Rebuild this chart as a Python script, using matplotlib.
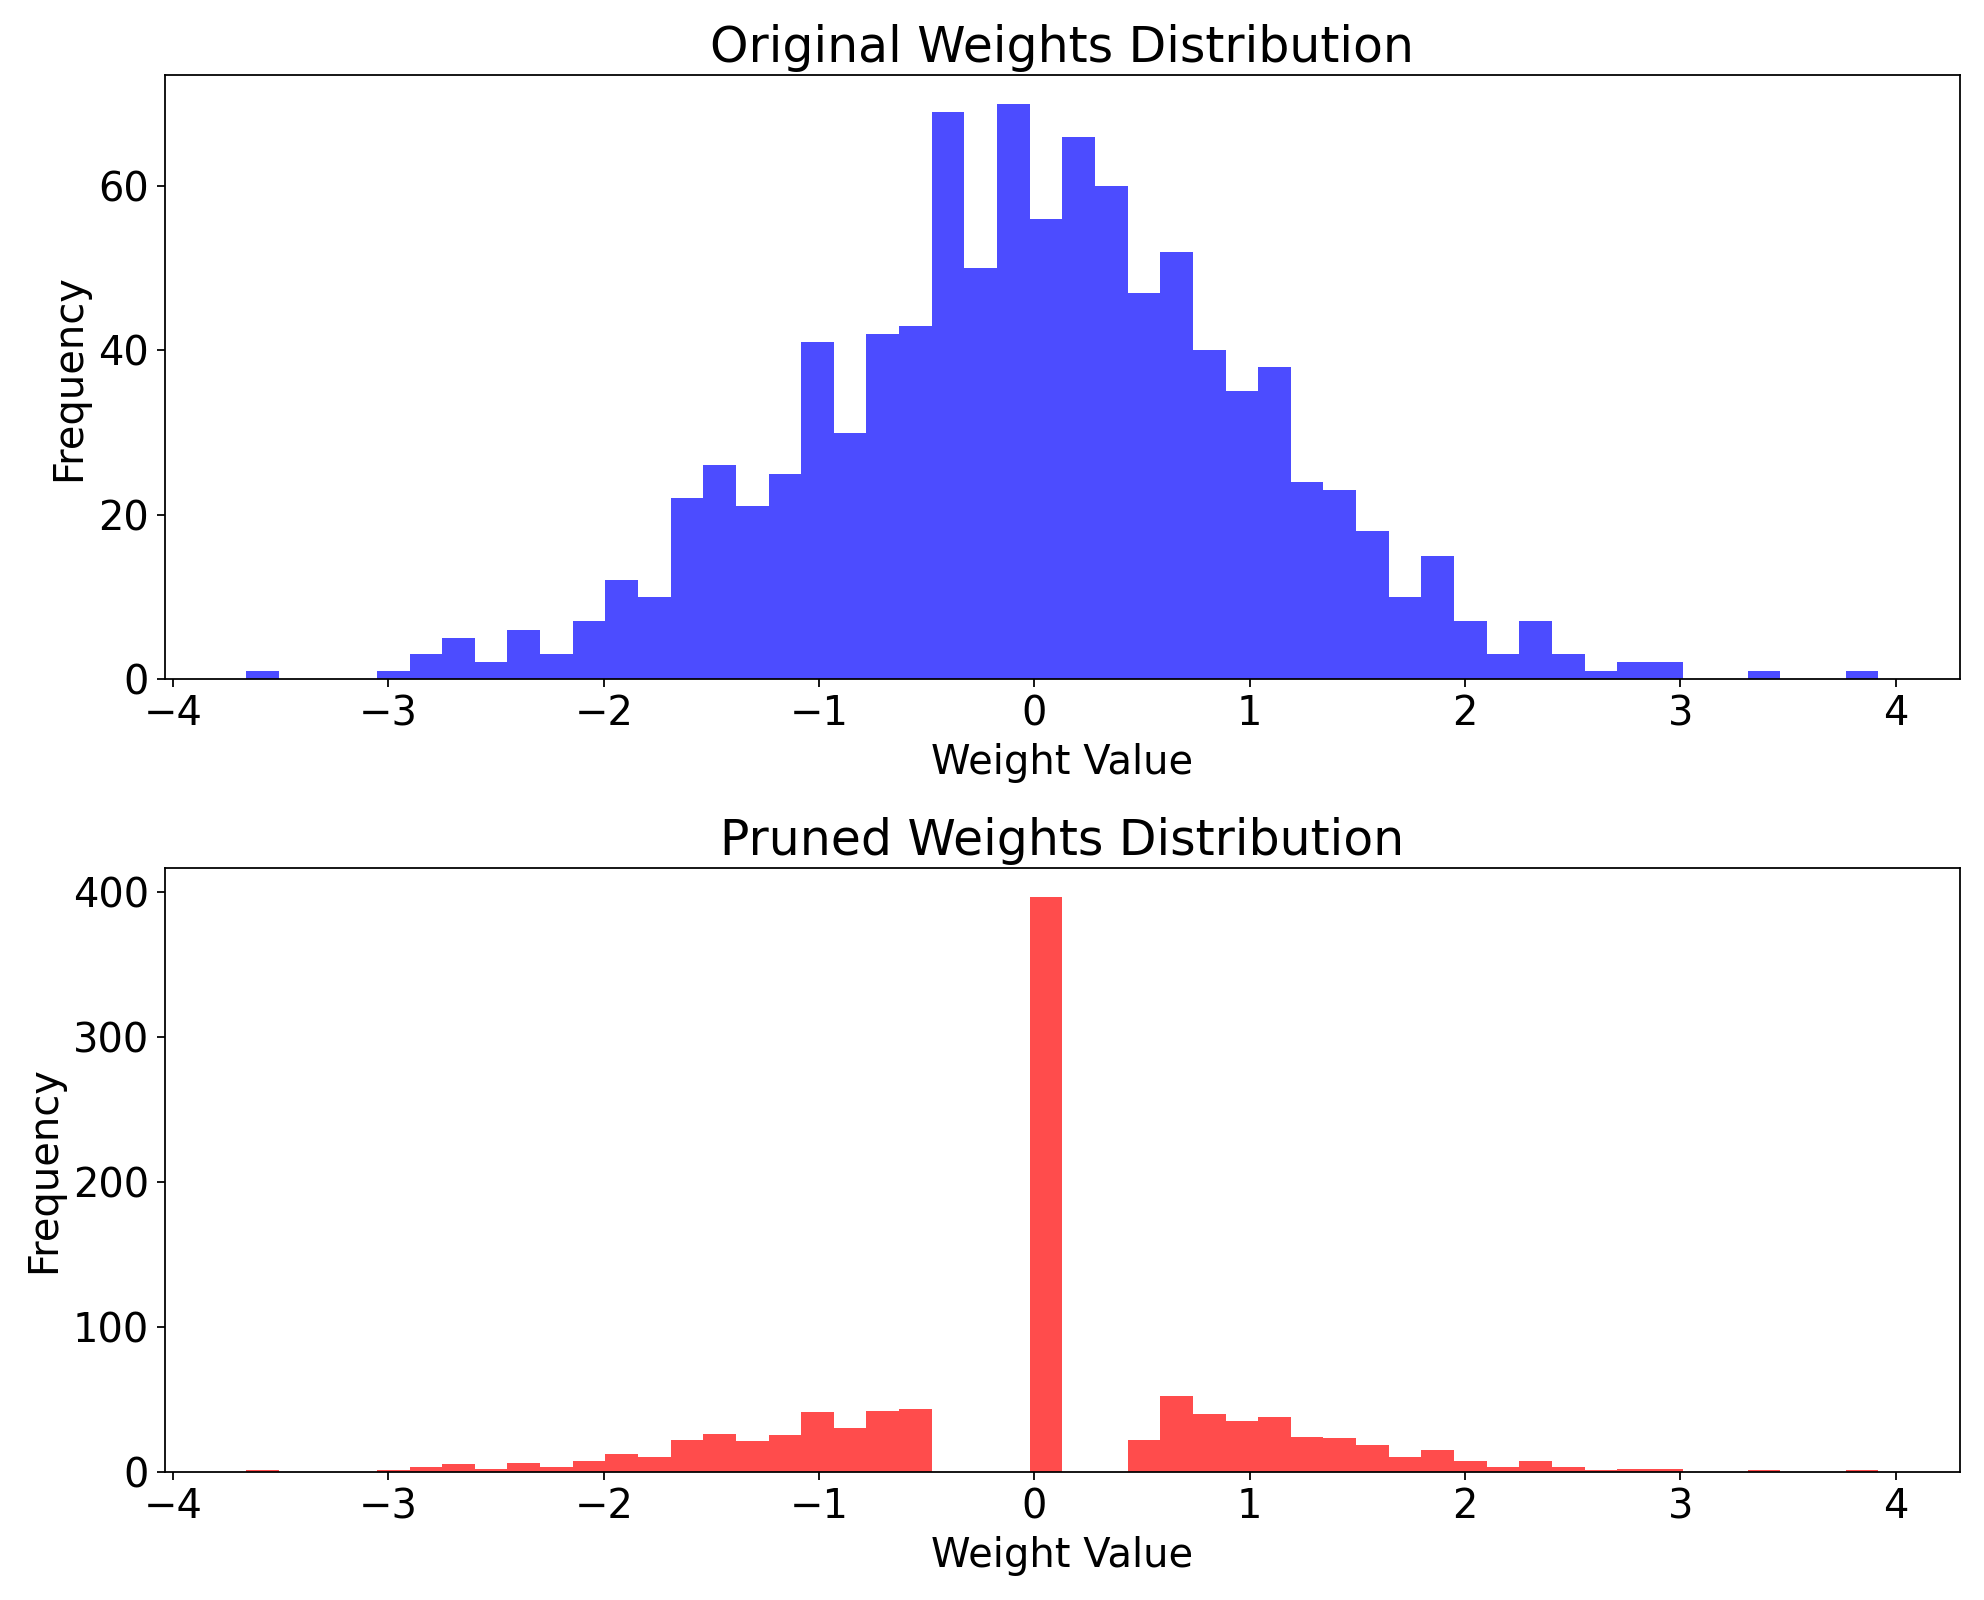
import numpy as np
import matplotlib
matplotlib.use("Agg")
import matplotlib.pyplot as plt

bin_start = -3.66
bin_end = 3.92
n_bins = 50
orig_counts = [1,0,0,0,1,3,5,2,6,3,7,12,10,22,26,21,25,41,30,42,43,69,50,70,56,66,60,47,52,40,35,38,24,23,18,10,15,7,3,7,3,1,2,2,0,0,1,0,0,1]
pruned_counts = [1,0,0,0,1,3,5,2,6,3,7,12,10,22,26,21,25,41,30,42,43,0,0,0,397,0,0,22,52,40,35,38,24,23,18,10,15,7,3,7,3,1,2,2,0,0,1,0,0,1]

edges = np.linspace(bin_start, bin_end, n_bins + 1)
w = np.diff(edges)

fig, axes = plt.subplots(2, 1, figsize=(12.4, 10.0), dpi=160)
for ax, counts, color, title in [
    (axes[0], orig_counts, 'blue', 'Original Weights Distribution'),
    (axes[1], pruned_counts, 'red', 'Pruned Weights Distribution')]:
    ax.bar(edges[:-1], counts, width=w, align='edge', color=color, alpha=0.7, linewidth=0)
    ax.set_title(title, fontsize=22)
    ax.set_xlabel('Weight Value', fontsize=18)
    ax.set_ylabel('Frequency', fontsize=18)
    ax.tick_params(labelsize=18)
plt.tight_layout(h_pad=1.5)
fig.savefig('out.png')
